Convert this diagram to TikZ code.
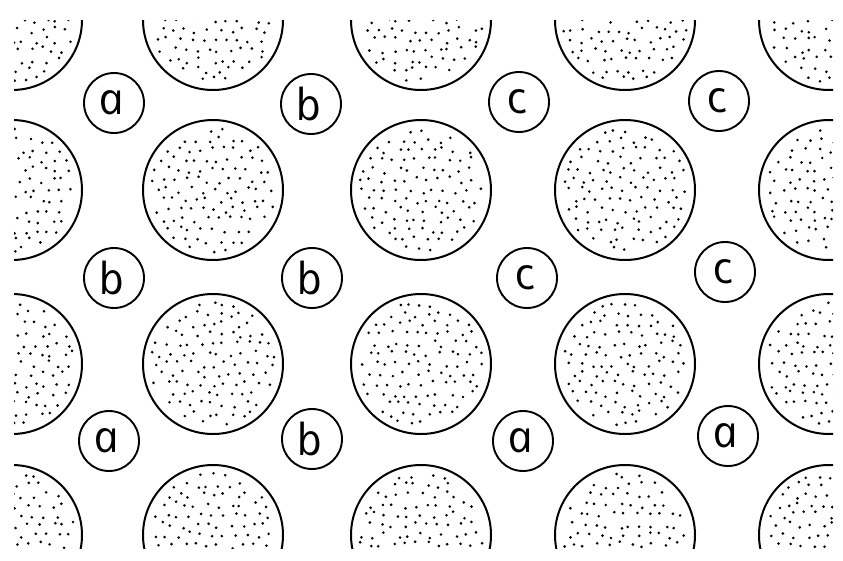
\documentclass[tikz,border=0pt]{standalone}
\usepackage{fontspec}
\newfontfamily\handfont{Open Sans}[ItalicFeatures={FakeSlant=-0.21}]
\begin{document}
\begin{tikzpicture}[x=1pt, y=-1pt,
    pore/.style={draw, circle, line width=2pt, minimum size=140pt, inner sep=0pt},
    site/.style={draw, circle, line width=1.9pt, minimum size=60pt, inner sep=0pt,
                 font=\handfont\itshape\fontsize{44}{44}\selectfont},
    speck/.style={fill=black},
]
\useasboundingbox (0,0) rectangle (843,560);
\pgfmathsetseed{17}
% big stippled discs, cut by the frame
\begin{scope}
\clip (14,20) rectangle (833,548);
\foreach \row/\y in {1/20, 2/190, 3/364, 4/535}
  \foreach \col/\x in {1/12, 2/213, 3/421, 4/625, 5/829} {
    \node[pore] (p\row\col) at (\x,\y) {};
    \foreach \i in {-6,...,6}
      \foreach \j in {-7,...,7} {
        \pgfmathsetmacro\dx{11.5*\i + 5.75*mod(abs(\j),2) + 3.4*rand}
        \pgfmathsetmacro\dy{10*\j + 3.4*rand}
        \pgfmathtruncatemacro\inside{(\dx*\dx + \dy*\dy < 3900) ? 1 : 0}
        \ifnum\inside=1
          \fill[speck] (p\row\col.center) ++(\dx,\dy) circle (1.45pt);
        \fi
      }
  }
\end{scope}
% small lettered sites
\foreach \n/\x/\y/\t in {s11/114/103/a, s12/311/104/b, s13/519/102/c, s14/719/101/c,
                         s21/114/278/b, s22/312/278/b, s23/527/278/c, s24/725/272/c,
                         s31/109/441/a, s32/312/439/b, s33/523/441/a, s34/728/436/a}
  \node[site] (\n) at (\x,\y) {\t};
\end{tikzpicture}
\end{document}
